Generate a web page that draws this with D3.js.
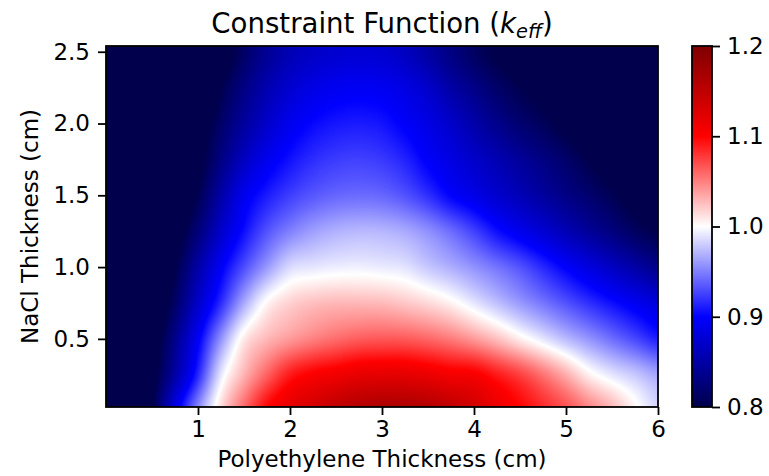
<!DOCTYPE html>
<html>
<head>
<meta charset="utf-8">
<script src="https://cdn.jsdelivr.net/npm/d3@7"></script>
<style>
  body { margin: 0; background: #fff; }
  svg { display: block; }
  text { font-family: "DejaVu Sans", sans-serif; fill: #000; }
</style>
</head>
<body>
<svg id="chart" width="769" height="476"></svg>
<script>
// Grid of polyethylene thicknesses (cm) — columns of the k_eff table
const polyThickness = [0, 0.25, 0.5, 0.75, 1.0, 1.25, 1.5, 1.75, 2.0, 2.25, 2.5, 2.75,
  3.0, 3.25, 3.5, 3.75, 4.0, 4.25, 4.5, 4.75, 5.0, 5.25, 5.5, 5.75, 6.0];
// NaCl thicknesses (cm) — rows of the k_eff table
const naclThickness = [0, 0.25, 0.5, 0.75, 1.0, 1.25, 1.5, 1.75, 2.0, 2.25, 2.5];

// k_eff along each NaCl row
const keffNacl000 = [0.70,0.74,0.80,0.885,0.955,1.015,1.06,1.10,1.12,1.135,1.15,1.16,1.165,1.165,1.16,1.15,1.135,1.115,1.10,1.085,1.07,1.05,1.03,1.005,0.985];
const keffNacl025 = [0.70,0.74,0.79,0.85,0.915,0.99,1.03,1.062,1.09,1.103,1.11,1.118,1.12,1.12,1.115,1.108,1.105,1.09,1.075,1.055,1.032,1.006,0.99,0.978,0.965];
const keffNacl050 = [0.70,0.73,0.78,0.835,0.895,0.957,1.008,1.028,1.04,1.05,1.058,1.064,1.066,1.065,1.06,1.052,1.04,1.025,1.007,0.99,0.973,0.958,0.943,0.928,0.912];
const keffNacl075 = [0.69,0.72,0.77,0.815,0.87,0.917,0.966,1.003,1.018,1.025,1.028,1.028,1.027,1.022,1.015,1.005,0.99,0.975,0.96,0.946,0.932,0.918,0.905,0.892,0.88];
const keffNacl100 = [0.68,0.71,0.76,0.80,0.85,0.895,0.93,0.96,0.985,0.99,0.993,0.994,0.992,0.989,0.978,0.968,0.957,0.945,0.932,0.915,0.898,0.882,0.866,0.85,0.835];
const keffNacl125 = [0.67,0.70,0.745,0.785,0.825,0.87,0.905,0.932,0.95,0.962,0.969,0.972,0.971,0.966,0.956,0.942,0.925,0.905,0.89,0.875,0.859,0.843,0.828,0.812,0.80];
const keffNacl150 = [0.66,0.69,0.73,0.77,0.805,0.85,0.89,0.91,0.924,0.934,0.94,0.942,0.94,0.932,0.918,0.90,0.887,0.873,0.86,0.846,0.832,0.819,0.805,0.79,0.777];
const keffNacl175 = [0.64,0.67,0.71,0.75,0.79,0.83,0.865,0.89,0.906,0.917,0.923,0.925,0.922,0.913,0.897,0.884,0.87,0.857,0.843,0.83,0.816,0.80,0.785,0.77,0.755];
const keffNacl200 = [0.62,0.65,0.69,0.73,0.78,0.815,0.845,0.87,0.89,0.902,0.908,0.91,0.907,0.897,0.885,0.87,0.852,0.835,0.82,0.808,0.793,0.78,0.768,0.755,0.745];
const keffNacl225 = [0.60,0.63,0.67,0.71,0.75,0.80,0.83,0.855,0.873,0.885,0.892,0.894,0.892,0.884,0.87,0.85,0.833,0.816,0.802,0.79,0.778,0.767,0.756,0.745,0.735];
const keffNacl250 = [0.58,0.61,0.65,0.69,0.73,0.78,0.815,0.84,0.858,0.868,0.874,0.876,0.874,0.865,0.848,0.83,0.812,0.797,0.785,0.775,0.765,0.755,0.745,0.735,0.725];

const xTicks = [1, 2, 3, 4, 5, 6];
const yTicks = [0.5, 1.0, 1.5, 2.0, 2.5];
const colorTicks = [0.8, 0.9, 1.0, 1.1, 1.2];
const seismicColors = ["#00004c", "#0000ff", "#ffffff", "#ff0000", "#7f0000"];

const keffGrid = [keffNacl000, keffNacl025, keffNacl050, keffNacl075, keffNacl100,
  keffNacl125, keffNacl150, keffNacl175, keffNacl200, keffNacl225, keffNacl250];

const svg = d3.select("#chart");
const plot = { left: 106, right: 658, top: 46, bottom: 407 };
const FS = 23;

const x = d3.scaleLinear().domain([0, 6]).range([plot.left, plot.right]);
const y = d3.scaleLinear().domain([0.0254, 2.54]).range([plot.bottom, plot.top]);
const color = d3.scaleLinear().domain(colorTicks).range(seismicColors).clamp(true);

// position of a value on a sorted grid: lower node index and fraction to the next node
function locate(grid, v) {
  let i = d3.bisectRight(grid, v) - 1;
  i = Math.max(0, Math.min(grid.length - 2, i));
  const t = Math.max(0, Math.min(1, (v - grid[i]) / (grid[i + 1] - grid[i])));
  return [i, t];
}
// Catmull-Rom weights for smooth bicubic shading between table nodes
function cubic(p0, p1, p2, p3, t) {
  return p1 + 0.5 * t * (p2 - p0 + t * (2 * p0 - 5 * p1 + 4 * p2 - p3 + t * (3 * (p1 - p2) + p3 - p0)));
}
const clampIdx = (k, n) => Math.max(0, Math.min(n - 1, k));
function keffAt(px, ny) {
  const [i, tx] = locate(polyThickness, px);
  const [j, ty] = locate(naclThickness, ny);
  const nx = polyThickness.length, nr = naclThickness.length;
  const rows = [-1, 0, 1, 2].map(dj => {
    const row = keffGrid[clampIdx(j + dj, nr)];
    return cubic(row[clampIdx(i - 1, nx)], row[i], row[i + 1], row[clampIdx(i + 2, nx)], tx);
  });
  return cubic(rows[0], rows[1], rows[2], rows[3], ty);
}

// raster of the shaded k_eff field
const w = plot.right - plot.left, h = plot.bottom - plot.top;
const canvas = document.createElement("canvas");
canvas.width = w; canvas.height = h;
const ctx = canvas.getContext("2d");
const img = ctx.createImageData(w, h);
for (let r = 0; r < h; r++) {
  const ny = y.invert(plot.top + r + 0.5);
  for (let c = 0; c < w; c++) {
    const px = x.invert(plot.left + c + 0.5);
    const col = d3.rgb(color(keffAt(px, ny)));
    const k = (r * w + c) * 4;
    img.data[k] = col.r; img.data[k + 1] = col.g; img.data[k + 2] = col.b; img.data[k + 3] = 255;
  }
}
ctx.putImageData(img, 0, 0);
svg.append("image")
  .attr("x", plot.left).attr("y", plot.top)
  .attr("width", w).attr("height", h)
  .attr("preserveAspectRatio", "none")
  .attr("href", canvas.toDataURL());

// axes
function styleAxis(g) {
  g.selectAll("path").remove();
  g.selectAll("line").attr("stroke", "#000").attr("stroke-width", 1.8);
  g.selectAll("text").style("font-size", FS + "px").attr("fill", "#000");
}
svg.append("g")
  .attr("transform", `translate(0,${plot.bottom})`)
  .call(d3.axisBottom(x).tickValues(xTicks).tickFormat(d3.format("d")).tickSize(8).tickPadding(6))
  .call(styleAxis);
svg.append("g")
  .attr("transform", `translate(${plot.left},0)`)
  .call(d3.axisLeft(y).tickValues(yTicks).tickFormat(d3.format(".1f")).tickSize(8).tickPadding(8))
  .call(styleAxis);

svg.append("rect")
  .attr("x", plot.left).attr("y", plot.top)
  .attr("width", w).attr("height", h)
  .attr("fill", "none").attr("stroke", "#000").attr("stroke-width", 1.8);

// colorbar
const cb = { left: 692, width: 20 };
const cScale = d3.scaleLinear().domain([0.8, 1.2]).range([plot.bottom, plot.top]);
const grad = svg.append("defs").append("linearGradient")
  .attr("id", "seismic").attr("x1", 0).attr("y1", 1).attr("x2", 0).attr("y2", 0);
grad.selectAll("stop").data(colorTicks).join("stop")
  .attr("offset", d => (d - 0.8) / 0.4)
  .attr("stop-color", d => color(d));
svg.append("rect")
  .attr("x", cb.left).attr("y", plot.top)
  .attr("width", cb.width).attr("height", h)
  .attr("fill", "url(#seismic)")
  .attr("stroke", "#000").attr("stroke-width", 1.8);
svg.append("g")
  .attr("transform", `translate(${cb.left + cb.width},0)`)
  .call(d3.axisRight(cScale).tickValues(colorTicks).tickFormat(d3.format(".1f")).tickSize(8).tickPadding(7))
  .call(styleAxis);

// labels
svg.append("text")
  .attr("x", (plot.left + plot.right) / 2).attr("y", 467)
  .attr("text-anchor", "middle").style("font-size", FS + "px")
  .text("Polyethylene Thickness (cm)");
svg.append("text")
  .attr("transform", `translate(38,${(plot.top + plot.bottom) / 2}) rotate(-90)`)
  .attr("text-anchor", "middle").style("font-size", FS + "px")
  .text("NaCl Thickness (cm)");

const title = svg.append("text")
  .attr("x", (plot.left + plot.right) / 2).attr("y", 33)
  .attr("text-anchor", "middle").style("font-size", (FS * 1.2) + "px");
title.append("tspan").text("Constraint Function (");
title.append("tspan").style("font-style", "italic").text("k");
title.append("tspan").style("font-style", "italic").style("font-size", (FS * 1.2 * 0.7) + "px")
  .attr("dy", 5).text("eff");
title.append("tspan").attr("dy", -5).text(")");
</script>
</body>
</html>
